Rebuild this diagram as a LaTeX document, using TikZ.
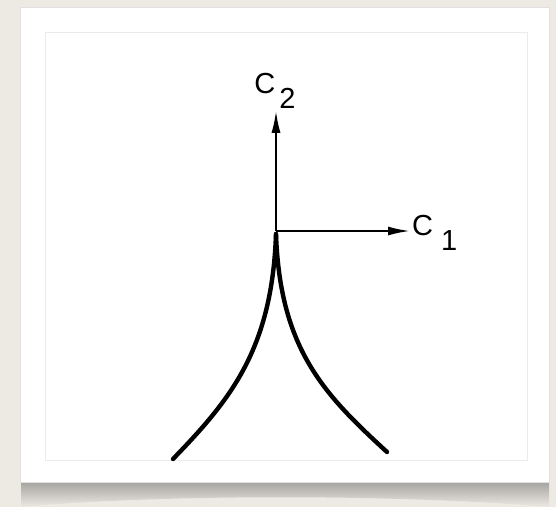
\documentclass[tikz,border=0pt]{standalone}
\usepackage{fontspec}
\setmainfont{Liberation Sans}
\usetikzlibrary{arrows.meta}
\definecolor{paper}{RGB}{237,234,228}
\newcommand{\csub}[2]{C\kern#1\raisebox{-15pt}{#2}}

\begin{document}
\begin{tikzpicture}[x=1pt, y=-1pt,
  lbl/.style={inner sep=2pt, font=\fontsize{29}{30}\selectfont},
  axis/.style={line width=2pt, -{Latex[length=22pt, width=9pt]}},
  branch/.style={line width=4.4pt, line cap=round}]
% page, shadow and frame
\fill[paper] (0,0) rectangle (556,507);
\useasboundingbox (0,0) rectangle (556,507);
\shade[top color=black!30!paper, bottom color=paper]
  (21,482) -- (549,482) -- (549,507) .. controls (400,494) and (160,494) .. (21,507) -- cycle;
\fill[white, draw=black!12] (20,7) rectangle (549,482);
\draw[black!8] (45,32) rectangle (527,460);
% axes
\coordinate (o) at (276,231);
\node[lbl] (c2) at (275,91) {\csub{4pt}{2}};
\node[lbl, anchor=mid west] (c1) at (410,233) {\csub{8pt}{1}};
\draw[axis] (o) -- (o |- c2.south);
\draw[axis] (o) -- (o -| c1.west);
% cusp
\coordinate (apex) at (276,234);
\coordinate (lft) at (173,459);
\coordinate (rgt) at (387,452);
\draw[branch] (lft) .. controls (230,400) and (272,350) .. (apex);
\draw[branch] (apex) .. controls (280,350) and (325,395) .. (rgt);
\end{tikzpicture}
\end{document}
